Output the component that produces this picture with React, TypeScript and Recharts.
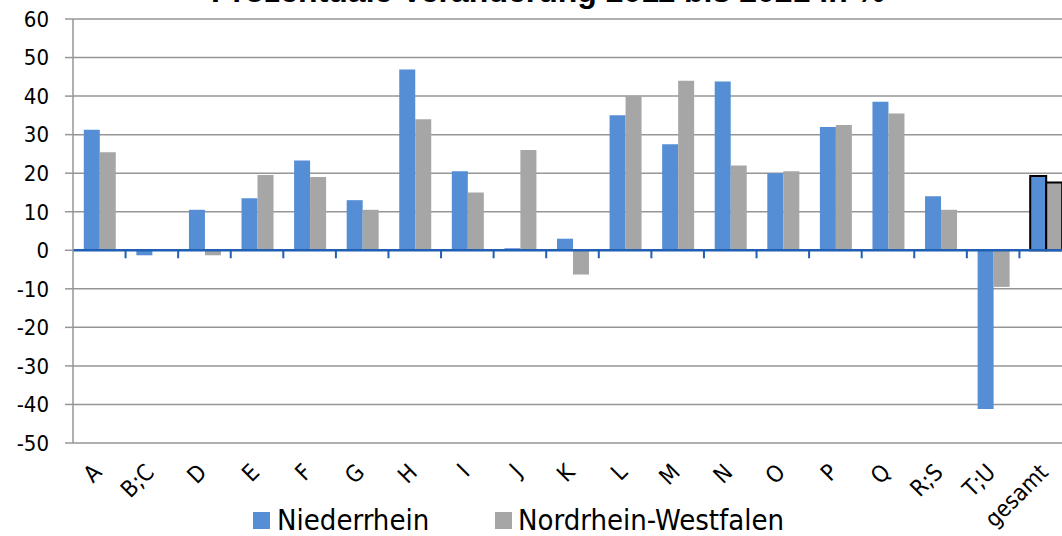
import { Bar, BarChart, CartesianGrid, Cell, ReferenceLine, XAxis, YAxis } from "recharts";

const categories = ["A", "B;C", "D", "E", "F", "G", "H", "I", "J", "K", "L", "M", "N", "O", "P", "Q", "R;S", "T;U", "gesamt"];
const niederrhein = [31.3, -1.3, 10.5, 13.5, 23.3, 13, 46.9, 20.5, 0.5, 3, 35, 27.5, 43.8, 20, 32, 38.5, 14, -41.2, 19.3];
const nrw = [25.4, -0.1, -1.3, 19.5, 19, 10.5, 34, 15, 26, -6.3, 40, 44, 22, 20.5, 32.5, 35.5, 10.5, -9.5, 17.6];
const yTicks = [-50, -40, -30, -20, -10, 0, 10, 20, 30, 40, 50, 60];

const data = categories.map((name, i) => ({ name, niederrhein: niederrhein[i], nrw: nrw[i] }));

const BLUE = "#558ed5";
const GRAY = "#a6a6a6";
const FONT = "'DejaVu Sans Condensed', 'Liberation Sans Narrow', sans-serif";

const XTick = (props: any) => {
  const { x, y, payload } = props;
  const ax = x - 2;
  const ay = y + 17;
  return (
    <text
      x={ax}
      y={ay}
      dy="0.35em"
      textAnchor="end"
      transform={`rotate(-45, ${ax}, ${ay})`}
      fontFamily={FONT}
      fontSize={23}
      fill="#000"
    >
      {payload.value}
    </text>
  );
};

// zero line with small tick marks at category boundaries
const ZeroLine = (props: any) => {
  const { x1, x2, y1 } = props;
  const n = categories.length;
  const step = (x2 - x1) / n;
  const marks = [];
  for (let i = 1; i < n; i++) {
    const mx = x1 + step * i;
    marks.push(<line key={i} x1={mx} x2={mx} y1={y1} y2={y1 + 8} stroke="#1f5fb4" strokeWidth={2} />);
  }
  return (
    <g>
      <line x1={x1} x2={x2} y1={y1} y2={y1} stroke="#1f5fb4" strokeWidth={2.5} />
      {marks}
    </g>
  );
};

const legendText = { fontFamily: FONT, fontSize: 29, color: "#000", whiteSpace: "nowrap" as const };

export default function App() {
  return (
    <div
      style={{
        position: "absolute",
        left: 0,
        top: 0,
        width: 1062,
        height: 536,
        overflow: "hidden",
        background: "#fff",
      }}
    >
      <div
        style={{
          position: "absolute",
          top: -27,
          left: 0,
          width: 1096,
          textAlign: "center",
          fontFamily: "'Liberation Sans', Arial, sans-serif",
          fontWeight: "bold",
          fontSize: 32,
          lineHeight: "36px",
          whiteSpace: "nowrap",
        }}
      >
        Prozentuale Veränderung 2011 bis 2021 in %
      </div>
      <BarChart
        width={1072}
        height={536}
        data={data}
        margin={{ top: 19, right: 0, left: 0, bottom: 33 }}
        barGap={0}
        barCategoryGap="20.5%"
      >
        <CartesianGrid vertical={false} stroke="#969696" strokeWidth={1.5} />
        <XAxis
          dataKey="name"
          height={60}
          interval={0}
          tickLine={false}
          axisLine={false}
          tick={<XTick />}
        />
        <YAxis
          width={73}
          domain={[-50, 60]}
          ticks={yTicks}
          interval={0}
          tickSize={8}
          tickMargin={16}
          axisLine={{ stroke: "#969696", strokeWidth: 1.5 }}
          tickLine={{ stroke: "#969696", strokeWidth: 1.5 }}
          tick={{ fill: "#000", fontSize: 22, fontFamily: FONT }}
        />
        <Bar dataKey="niederrhein" fill={BLUE} isAnimationActive={false}>
          {data.map((d, i) => (
            <Cell
              key={i}
              fill={BLUE}
              stroke={d.name === "gesamt" ? "#000" : "none"}
              strokeWidth={d.name === "gesamt" ? 2 : 0}
            />
          ))}
        </Bar>
        <Bar dataKey="nrw" fill={GRAY} isAnimationActive={false}>
          {data.map((d, i) => (
            <Cell
              key={i}
              fill={GRAY}
              stroke={d.name === "gesamt" ? "#000" : "none"}
              strokeWidth={d.name === "gesamt" ? 2 : 0}
            />
          ))}
        </Bar>
        <ReferenceLine y={0} shape={<ZeroLine />} />
      </BarChart>
      <div style={{ position: "absolute", top: 503, left: 253, display: "flex", alignItems: "center", ...legendText }}>
        <span style={{ width: 17, height: 17, background: BLUE, display: "inline-block", marginRight: 7 }} />
        <span>Niederrhein</span>
      </div>
      <div style={{ position: "absolute", top: 503, left: 495, display: "flex", alignItems: "center", ...legendText }}>
        <span style={{ width: 17, height: 17, background: GRAY, display: "inline-block", marginRight: 6 }} />
        <span>Nordrhein-Westfalen</span>
      </div>
    </div>
  );
}
